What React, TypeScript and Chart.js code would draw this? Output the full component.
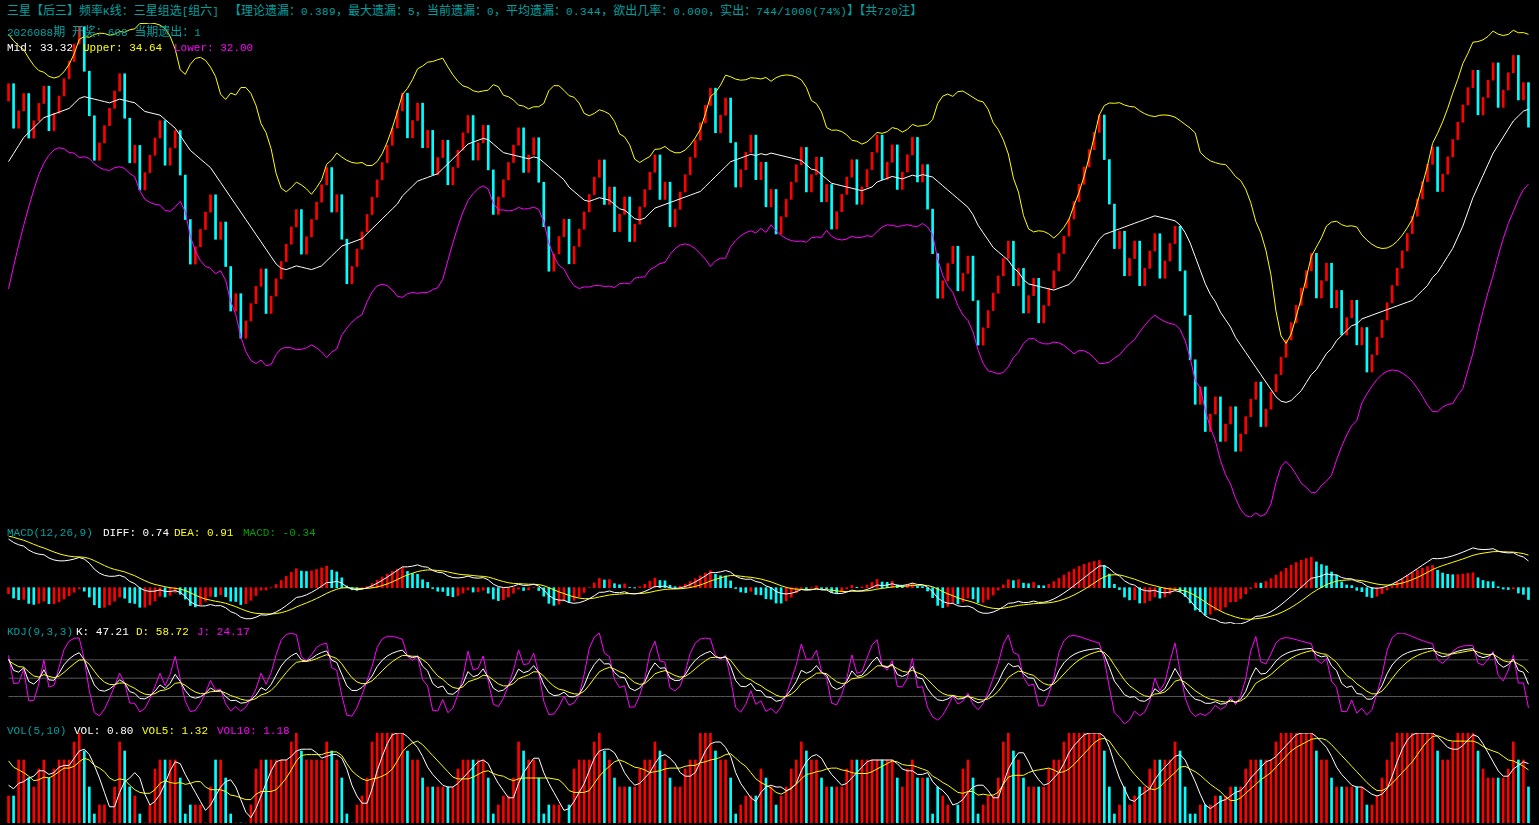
import React, { useEffect, useRef } from "react";
import { Chart, registerables } from "chart.js";

Chart.register(...registerables);

// ---------------- data ----------------
// Each period is a hit (1, red candle, value +0.389) or a miss (0, cyan candle, value -1).
const HIT_STEP = 0.389;
const MISS_STEP = 1;
const START_VALUE = 30;
const VOL_UNIT = 0.2;

// periods before the first visible one (only feed the indicators)
const preOutcomes = [
  1, 1, 0, 1, 1, 1, 0, 1, 1, 0, 1, 1, 1, 0, 1,
  1, 1, 1, 1, 0, 1, 1, 1, 1, 1, 1, 1, 1, 1, 0, 1, 1, 1, 1, 1,
  1, 1, 1, 1, 1, 1, 1, 1, 1, 1,
  1, 1, 0, 1, 1, 1, 0, 1, 1,
];
const preVolumes = [9, 10, 10, 10, 9, 9, 5, 4, 6, 3];

const outcomesA = [
  1, 0, 1, 1, 0, 1, 1, 1, 0, 1, 1, 1, 1, 1, 1, 0, 0, 0, 1, 1,
  1, 1, 1, 0, 0, 1, 0, 1, 1, 1, 1, 0, 1, 1, 0, 0, 0, 1, 1, 1,
  1, 0, 1, 0, 0, 1, 0, 1, 1, 1, 1, 0, 1, 1, 1, 1, 1, 1, 0, 1,
  1, 1, 1, 1, 0, 1, 0, 0, 1, 1, 1, 1, 1, 1, 1, 1, 1, 1, 1, 0,
  1, 1, 0, 1, 0, 1, 1, 0, 1, 1, 1, 1, 0, 1, 1, 0, 0, 1, 1, 1,
];
const outcomesB = [
  1, 1, 0, 1, 1, 0, 0, 0, 1, 1, 1, 0, 1, 1, 1, 1, 1, 1, 0, 1,
  0, 1, 1, 0, 1, 1, 1, 1, 1, 0, 1, 0, 1, 1, 1, 1, 1, 1, 1, 1,
  0, 1, 1, 0, 0, 1, 1, 1, 0, 1, 0, 1, 0, 1, 1, 1, 1, 1, 0, 1,
  1, 0, 1, 0, 1, 1, 1, 1, 0, 1, 1, 1, 1, 0, 1, 1, 0, 1, 1, 1,
  0, 1, 0, 0, 0, 1, 1, 1, 0, 1, 1, 0, 0, 1, 1, 1, 1, 1, 1, 0,
];
const outcomesC = [
  1, 0, 1, 1, 0, 1, 1, 1, 1, 1, 1, 1, 1, 1, 1, 1, 1, 0, 0, 0,
  1, 0, 1, 1, 0, 1, 1, 1, 0, 1, 1, 1, 0, 0, 0, 0, 1, 0, 1, 1,
  0, 1, 1, 0, 1, 1, 1, 1, 0, 1, 1, 1, 1, 1, 1, 1, 1, 1, 1, 0,
  1, 1, 0, 1, 0, 1, 1, 0, 1, 0, 1, 1, 1, 1, 1, 1, 1, 1, 1, 1,
  1, 1, 1, 0, 1, 1, 1, 1, 1, 1, 1, 0, 1, 1, 1, 0, 1, 1, 1, 0,
  1, 0,
];

// volume in steps of 0.2
const volumesA = [
  3, 3, 7, 7, 5, 4, 6, 7, 5, 6, 7, 7, 7, 9, 10, 8, 4, 1, 2, 2,
  0, 4, 9, 8, 4, 3, 1, 0, 2, 6, 7, 7, 7, 7, 5, 1, 2, 2, 2, 0,
  4, 7, 7, 5, 1, 0, 0, 0, 2, 6, 7, 7, 7, 7, 7, 7, 9, 10, 8, 7,
  7, 7, 7, 9, 8, 7, 5, 1, 0, 2, 3, 5, 9, 10, 10, 10, 10, 10, 10, 8,
  7, 7, 5, 4, 4, 4, 4, 4, 4, 6, 7, 7, 7, 7, 7, 5, 1, 2, 3, 3,
];
const volumesB = [
  5, 9, 8, 7, 7, 5, 1, 2, 2, 2, 0, 2, 6, 7, 7, 7, 9, 10, 8, 7,
  5, 4, 4, 4, 4, 6, 7, 7, 9, 8, 7, 5, 4, 4, 6, 7, 7, 10, 10, 10,
  8, 7, 7, 5, 1, 2, 3, 3, 3, 6, 5, 4, 2, 3, 4, 6, 7, 9, 8, 7,
  7, 5, 4, 4, 4, 4, 6, 7, 7, 7, 7, 7, 7, 7, 7, 7, 5, 4, 6, 7,
  5, 5, 5, 1, 4, 3, 2, 0, 2, 6, 7, 5, 1, 2, 3, 3, 5, 9, 10, 8,
];
const volumesC = [
  7, 5, 4, 4, 4, 4, 6, 7, 7, 9, 10, 10, 10, 10, 10, 10, 10, 8, 4, 1,
  2, 4, 2, 3, 4, 4, 6, 7, 7, 7, 7, 9, 8, 4, 1, 1, 2, 2, 2, 3,
  3, 3, 4, 4, 4, 6, 7, 7, 7, 7, 7, 9, 10, 10, 10, 10, 10, 10, 10, 8,
  7, 7, 5, 4, 4, 4, 4, 4, 4, 2, 2, 3, 5, 7, 9, 10, 10, 10, 10, 10,
  10, 10, 10, 8, 7, 7, 9, 10, 10, 10, 10, 8, 6, 5, 5, 5, 5, 6, 9, 7,
  7, 4,
];

const outcomes = [...outcomesA, ...outcomesB, ...outcomesC];
const volumes = [...volumesA, ...volumesB, ...volumesC];

const KDJ_LEVELS = [20, 50, 80];

// texts
const TITLE_LEFT = "三星【后三】频率K线：三星组选[组六]";
const TITLE_RIGHT =
  "【理论遗漏：0.389，最大遗漏：5，当前遗漏：0，平均遗漏：0.344，欲出几率：0.000，实出：744/1000(74%)】【共720注】";
const ISSUE_LINE = "2026088期 开奖：608 当期遗出：1";

// colors
const RED = "#ff0000";
const CYAN = "#00ffff";
const WHITE = "#ffffff";
const YELLOW = "#ffff00";
const MAGENTA = "#ff00ff";
const TEAL = "#00a0a0";
const GREEN = "#00a000";
const GRID = "#5a5a5a";

const ASCII_FONT = "'Liberation Mono', 'DejaVu Sans Mono', monospace";
const CJK_FONT = "'Noto Sans CJK SC', sans-serif";

// ---------------- computation ----------------
function computeData() {
  const all = [...preOutcomes, ...outcomes];
  const P = preOutcomes.length;
  const opens: number[] = [];
  const closes: number[] = [];
  let c = START_VALUE;
  for (const o of all) {
    opens.push(c);
    c = c + (o ? HIT_STEP : -MISS_STEP);
    closes.push(c);
  }
  const highs = closes.map((v, i) => Math.max(v, opens[i]));
  const lows = closes.map((v, i) => Math.min(v, opens[i]));
  const n = all.length;

  const mid: (number | null)[] = [];
  const up: (number | null)[] = [];
  const lo: (number | null)[] = [];
  for (let i = 0; i < n; i++) {
    if (i < 19) {
      mid.push(null);
      up.push(null);
      lo.push(null);
      continue;
    }
    const w = closes.slice(i - 19, i + 1);
    const m = w.reduce((a, b) => a + b, 0) / 20;
    const sd = Math.sqrt(w.reduce((a, b) => a + (b - m) * (b - m), 0) / 19);
    mid.push(m);
    up.push(m + 2 * sd);
    lo.push(m - 2 * sd);
  }

  const ema = (arr: number[], N: number) => {
    const out: number[] = [];
    arr.forEach((x, i) => out.push(i === 0 ? x : (2 * x + (N - 1) * out[i - 1]) / (N + 1)));
    return out;
  };
  const e12 = ema(closes, 12);
  const e26 = ema(closes, 26);
  const dif = e12.map((v, i) => v - e26[i]);
  const dea = ema(dif, 9);
  const macd = dif.map((v, i) => 2 * (v - dea[i]));

  const K: number[] = [];
  const D: number[] = [];
  const J: number[] = [];
  let kp = 50;
  let dp = 50;
  for (let i = 0; i < n; i++) {
    const s = Math.max(0, i - 8);
    const l9 = Math.min(...lows.slice(s, i + 1));
    const h9 = Math.max(...highs.slice(s, i + 1));
    const rsv = h9 === l9 ? 50 : ((closes[i] - l9) / (h9 - l9)) * 100;
    const k = (rsv + 2 * kp) / 3;
    const d = (k + 2 * dp) / 3;
    K.push(k);
    D.push(d);
    J.push(3 * k - 2 * d);
    kp = k;
    dp = d;
  }

  const vAll = [...preVolumes, ...volumes].map((v) => v * VOL_UNIT);
  const off = preVolumes.length;
  const ma = (t: number, N: number) => {
    const s = off + t - N + 1;
    const w = vAll.slice(Math.max(0, s), off + t + 1);
    return w.reduce((a, b) => a + b, 0) / w.length;
  };
  const vol = volumes.map((v) => v * VOL_UNIT);
  const vma5 = volumes.map((_, t) => ma(t, 5));
  const vma10 = volumes.map((_, t) => ma(t, 10));

  const vis = <T,>(a: T[]) => a.slice(P);
  const o = vis(opens);
  const cl = vis(closes);
  const visMacd = vis(macd);
  return {
    labels: outcomes.map((_, i) => String(i)),
    candles: o.map((v, i) => [v, cl[i]]),
    candleColors: outcomes.map((x) => (x ? RED : CYAN)),
    mid: vis(mid) as number[],
    up: vis(up) as number[],
    lo: vis(lo) as number[],
    dif: vis(dif),
    dea: vis(dea),
    macd: visMacd,
    macdColors: visMacd.map((v, i) => {
      const prev = i === 0 ? macd[P - 1] : visMacd[i - 1];
      return v >= prev ? RED : CYAN;
    }),
    K: vis(K),
    D: vis(D),
    J: vis(J),
    vol,
    vma5,
    vma10,
  };
}

const PAD = { left: 6, right: 8, top: 3, bottom: 3 };

function baseOptions(min: number, max: number) {
  return {
    responsive: false,
    animation: false as const,
    devicePixelRatio: 1,
    events: [] as any[],
    layout: { padding: PAD },
    plugins: { legend: { display: false }, tooltip: { enabled: false } },
    scales: {
      x: { display: false, offset: true, grid: { display: false } },
      y: { display: false, min, max, grid: { display: false } },
    },
  };
}

function line(data: number[], color: string, order = 0) {
  return {
    type: "line" as const,
    data,
    borderColor: color,
    borderWidth: 1,
    pointRadius: 0,
    tension: 0,
    fill: false,
    order,
  };
}

function bars(data: any[], colors: string[]) {
  return {
    type: "bar" as const,
    data,
    backgroundColor: colors,
    borderWidth: 0,
    barThickness: 2,
    order: 5,
  };
}

function Text({
  x,
  y,
  text,
  color,
  spacing = 0,
}: {
  x: number;
  y: number;
  text: string;
  color: string;
  spacing?: number;
}) {
  const parts = text.match(/[\x00-\x7F]+|[^\x00-\x7F]+/g) || [];
  return (
    <div
      style={{
        position: "absolute",
        left: x,
        top: y,
        whiteSpace: "pre",
        lineHeight: "13px",
        color,
        zIndex: 5,
      }}
    >
      {parts.map((p, k) => {
        const ascii = /^[\x00-\x7F]/.test(p);
        return (
          <span
            key={k}
            style={{
              fontFamily: ascii ? ASCII_FONT : CJK_FONT,
              fontSize: ascii ? "11px" : "12px",
              letterSpacing: ascii ? `${spacing}px` : "0px",
            }}
          >
            {p}
          </span>
        );
      })}
    </div>
  );
}

export default function App() {
  const mainRef = useRef<HTMLCanvasElement>(null);
  const macdRef = useRef<HTMLCanvasElement>(null);
  const kdjRef = useRef<HTMLCanvasElement>(null);
  const volRef = useRef<HTMLCanvasElement>(null);

  useEffect(() => {
    const d = computeData();
    const mainVals = [...d.candles.flat(), ...d.up, ...d.lo] as number[];
    const mainMin = Math.min(...mainVals);
    const mainMax = Math.max(...mainVals);
    const macdVals = [...d.dif, ...d.dea, ...d.macd, 0];
    const kdjVals = [...d.K, ...d.D, ...d.J];

    const charts: Chart[] = [];
    charts.push(
      new Chart(mainRef.current!, {
        type: "bar",
        data: {
          labels: d.labels,
          datasets: [
            bars(d.candles, d.candleColors) as any,
            line(d.mid, WHITE),
            line(d.up, YELLOW),
            line(d.lo, MAGENTA),
          ],
        },
        options: baseOptions(mainMin, mainMax) as any,
      })
    );
    charts.push(
      new Chart(macdRef.current!, {
        type: "bar",
        data: {
          labels: d.labels,
          datasets: [
            bars(d.macd, d.macdColors) as any,
            line(d.dif, WHITE),
            line(d.dea, YELLOW),
          ],
        },
        options: baseOptions(Math.min(...macdVals), Math.max(...macdVals)) as any,
      })
    );
    charts.push(
      new Chart(kdjRef.current!, {
        type: "line",
        data: {
          labels: d.labels,
          datasets: [
            ...KDJ_LEVELS.map((lv) => line(d.labels.map(() => lv), GRID, 3)),
            line(d.J, MAGENTA, 2),
            line(d.D, YELLOW, 1),
            line(d.K, WHITE, 0),
          ] as any,
        },
        options: baseOptions(Math.min(...kdjVals), Math.max(...kdjVals)) as any,
      })
    );
    charts.push(
      new Chart(volRef.current!, {
        type: "bar",
        data: {
          labels: d.labels,
          datasets: [
            bars(d.vol, d.candleColors) as any,
            line(d.vma10, YELLOW, 1),
            line(d.vma5, WHITE, 0),
          ],
        },
        options: baseOptions(0, Math.max(...d.vol)) as any,
      })
    );
    return () => charts.forEach((c) => c.destroy());
  }, []);

  const cv = (top: number) => ({ position: "absolute" as const, left: 0, top, display: "block" });

  return (
    <div
      style={{
        position: "fixed",
        left: 0,
        top: 0,
        width: 1539,
        height: 825,
        background: "#000",
        overflow: "hidden",
      }}
    >
      <canvas ref={mainRef} width={1539} height={500} style={cv(20)} />
      <canvas ref={macdRef} width={1539} height={94} style={cv(533)} />
      <canvas ref={kdjRef} width={1539} height={97} style={cv(630)} />
      <canvas ref={volRef} width={1539} height={96} style={cv(730)} />

      <Text x={7} y={3} text={TITLE_LEFT} color={TEAL} />
      <Text x={229} y={3} text={TITLE_RIGHT} color={TEAL} spacing={0.4} />
      <Text x={7} y={24} text={ISSUE_LINE} color={TEAL} />
      <Text x={7} y={39} text="Mid: 33.32" color={WHITE} />
      <Text x={83} y={39} text="Upper: 34.64" color={YELLOW} />
      <Text x={174} y={39} text="Lower: 32.00" color={MAGENTA} />

      <Text x={7} y={524} text="MACD(12,26,9)" color={TEAL} />
      <Text x={103} y={524} text="DIFF: 0.74" color={WHITE} />
      <Text x={174} y={524} text="DEA: 0.91" color={YELLOW} />
      <Text x={243} y={524} text="MACD: -0.34" color={GREEN} />

      <Text x={7} y={623} text="KDJ(9,3,3)" color={TEAL} />
      <Text x={76} y={623} text="K: 47.21" color={WHITE} />
      <Text x={136} y={623} text="D: 58.72" color={YELLOW} />
      <Text x={197} y={623} text="J: 24.17" color={MAGENTA} />

      <Text x={7} y={722} text="VOL(5,10)" color={TEAL} />
      <Text x={74} y={722} text="VOL: 0.80" color={WHITE} />
      <Text x={142} y={722} text="VOL5: 1.32" color={YELLOW} />
      <Text x={217} y={722} text="VOL10: 1.18" color={MAGENTA} />
    </div>
  );
}
